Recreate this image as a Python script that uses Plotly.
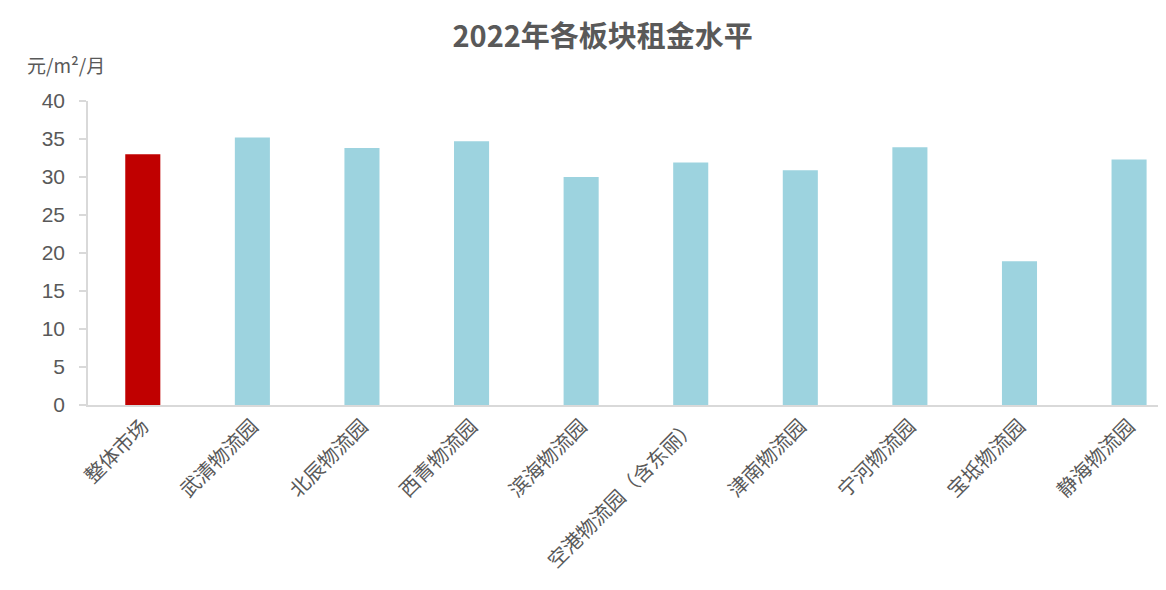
import plotly.graph_objects as go

categories = ["整体市场", "武清物流园", "北辰物流园", "西青物流园", "滨海物流园",
              "空港物流园（含东丽）", "津南物流园", "宁河物流园", "宝坻物流园", "静海物流园"]
rents = [33.0, 35.2, 33.8, 34.7, 30.0, 31.9, 30.9, 33.9, 18.9, 32.3]
bar_colors = ["#C00000"] + ["#9DD3DF"] * 9
y_ticks = [0, 5, 10, 15, 20, 25, 30, 35, 40]

GRAY = "#595959"
CJK = "'Noto Sans CJK SC', sans-serif"

fig = go.Figure()
fig.add_trace(go.Bar(
    x=list(range(len(categories))),
    y=rents,
    marker=dict(color=bar_colors, line=dict(width=0)),
    width=0.32,
    hoverinfo="y",
))

fig.update_layout(
    width=1166, height=590,
    paper_bgcolor="white", plot_bgcolor="white",
    margin=dict(l=80, r=0, t=93, b=193),
    showlegend=False,
    title=dict(
        text="<b>2022年各板块租金水平</b>",
        x=0.51, xanchor="center", y=0.951, yanchor="middle",
        font=dict(family=CJK, size=29, color=GRAY),
    ),
    font=dict(family=CJK, color=GRAY),
)

fig.update_xaxes(
    tickmode="array",
    tickvals=list(range(len(categories))),
    ticktext=categories,
    range=[-0.5, 9.41],
    tickangle=-45,
    tickfont=dict(family=CJK, size=20, color=GRAY),
    showline=True, linecolor="#D9D9D9", linewidth=1.5,
    ticks="", showgrid=False, zeroline=False,
)

fig.update_yaxes(
    range=[0, 40],
    tickmode="array", tickvals=y_ticks,
    tickfont=dict(family="'Liberation Sans', Arial, sans-serif", size=21, color=GRAY),
    showline=True, linecolor="#D9D9D9", linewidth=1.5,
    ticks="outside", ticklen=7, tickcolor="#D9D9D9", tickwidth=1.5,
    ticklabelstandoff=10,
    showgrid=False, zeroline=False,
)

fig.add_annotation(
    text="元/m²/月", xref="paper", yref="paper",
    x=-0.058, y=1.12, xanchor="left", yanchor="middle",
    showarrow=False,
    font=dict(family=CJK, size=19, color=GRAY),
)

fig.write_html("out.html")
